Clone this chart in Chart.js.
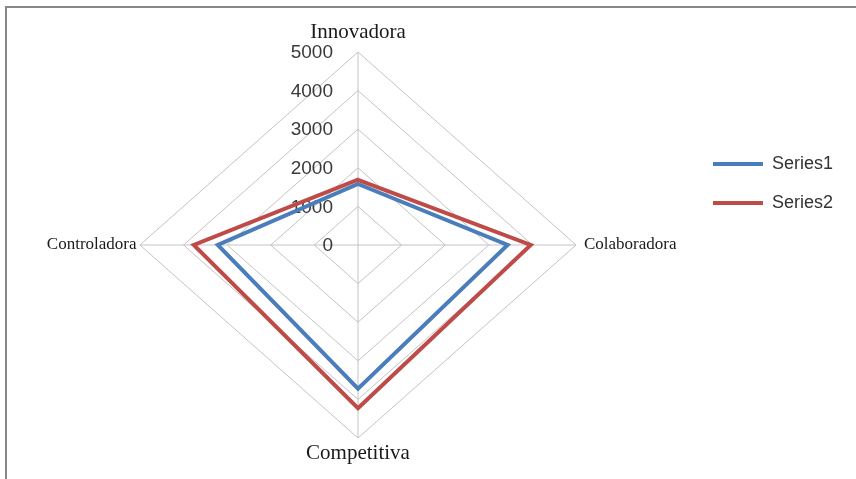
<!DOCTYPE html>
<html>
<head>
<meta charset="utf-8">
<script src="https://cdn.jsdelivr.net/npm/chart.js@4.4.1/dist/chart.umd.min.js"></script>
<style>
    html, body { margin: 0; padding: 0; background: #fff; }
    #frame {
        position: absolute; left: 5px; top: 6px; width: 851px; height: 473px;
        border-top: 2px solid #888; border-left: 2px solid #888;
    }
    #chartCanvas { position: absolute; left: 0; top: 0; }
</style>
</head>
<body>
<div id="frame"></div>
<canvas id="chartCanvas" width="856" height="479"></canvas>
<script>
// Data
const categories = ['Innovadora', 'Colaboradora', 'Competitiva', 'Controladora'];
const series1 = [1580, 3430, 3720, 3215];
const series2 = [1690, 3960, 4230, 3765];
const tickValues = [0, 1000, 2000, 3000, 4000, 5000];

// Layout of the web (the original is a bit wider than tall)
const CENTER_X = 358;
const CENTER_Y = 245;
const RADIUS = 193;
const STRETCH_X = 1.13;

const RadialLinearScale = Chart.RadialLinearScale;

class WideRadialScale extends RadialLinearScale {
    getPointPosition(index, distance, angle) {
        const p = super.getPointPosition(index, distance, angle);
        return { x: this.xCenter + (p.x - this.xCenter) * STRETCH_X, y: p.y, angle: p.angle };
    }

    setCenterPoint() {
        this.xCenter = CENTER_X;
        this.yCenter = CENTER_Y;
        this.drawingArea = RADIUS;
    }

    // tick labels sit left of the vertical axis, right aligned
    drawLabels() {
        const ctx = this.ctx;
        ctx.save();
        ctx.font = '19px "Liberation Sans", Arial, sans-serif';
        ctx.fillStyle = '#3a3a3a';
        ctx.textAlign = 'right';
        ctx.textBaseline = 'middle';
        this.ticks.forEach(tick => {
            const y = this.yCenter - this.getDistanceFromCenterForValue(tick.value);
            ctx.fillText(tick.label, this.xCenter - 25, y + 1);
        });
        ctx.restore();
    }
}
WideRadialScale.id = 'wideRadial';
WideRadialScale.defaults = RadialLinearScale.defaults;
Chart.register(WideRadialScale);

const canvas = document.getElementById('chartCanvas');

new Chart(canvas, {
    type: 'radar',
    data: {
        labels: categories,
        datasets: [
            {
                label: 'Series1',
                data: series1,
                borderColor: '#4a7ebb',
                backgroundColor: 'transparent',
                borderWidth: 4,
                pointRadius: 0,
                fill: false,
                clip: false,
                order: 1
            },
            {
                label: 'Series2',
                data: series2,
                borderColor: '#be4b48',
                backgroundColor: 'transparent',
                borderWidth: 4,
                pointRadius: 0,
                fill: false,
                clip: false,
                order: 0
            }
        ]
    },
    options: {
        responsive: false,
        animation: false,
        layout: { padding: { top: 134, right: 13 } },
        elements: { line: { tension: 0, borderJoinStyle: 'miter' } },
        scales: {
            r: {
                type: 'wideRadial',
                min: 0,
                max: 5000,
                afterBuildTicks: function(scale) {
                    scale.ticks = tickValues.map(v => ({ value: v }));
                },
                ticks: {
                    font: { size: 18 },
                    callback: v => String(v)
                },
                grid: { color: '#c3c3c3', lineWidth: 1 },
                angleLines: { color: '#c3c3c3', lineWidth: 1 },
                pointLabels: {
                    color: '#1a1a1a',
                    font: function(context) {
                        return {
                            family: '"Liberation Serif", "DejaVu Serif", serif',
                            size: context.index % 2 ? 17 : 21
                        };
                    },
                    padding: function(context) {
                        return [-4, -4, -8, -8][context.index];
                    }
                }
            }
        },
        plugins: {
            legend: {
                position: 'right',
                align: 'start',
                labels: {
                    usePointStyle: true,
                    pointStyle: 'line',
                    pointStyleWidth: 50,
                    padding: 21,
                    color: '#333',
                    font: { family: '"Liberation Sans", Arial, sans-serif', size: 18 },
                    sort: (a, b) => a.datasetIndex - b.datasetIndex
                }
            },
            tooltip: { enabled: false }
        }
    }
});
</script>
</body>
</html>
